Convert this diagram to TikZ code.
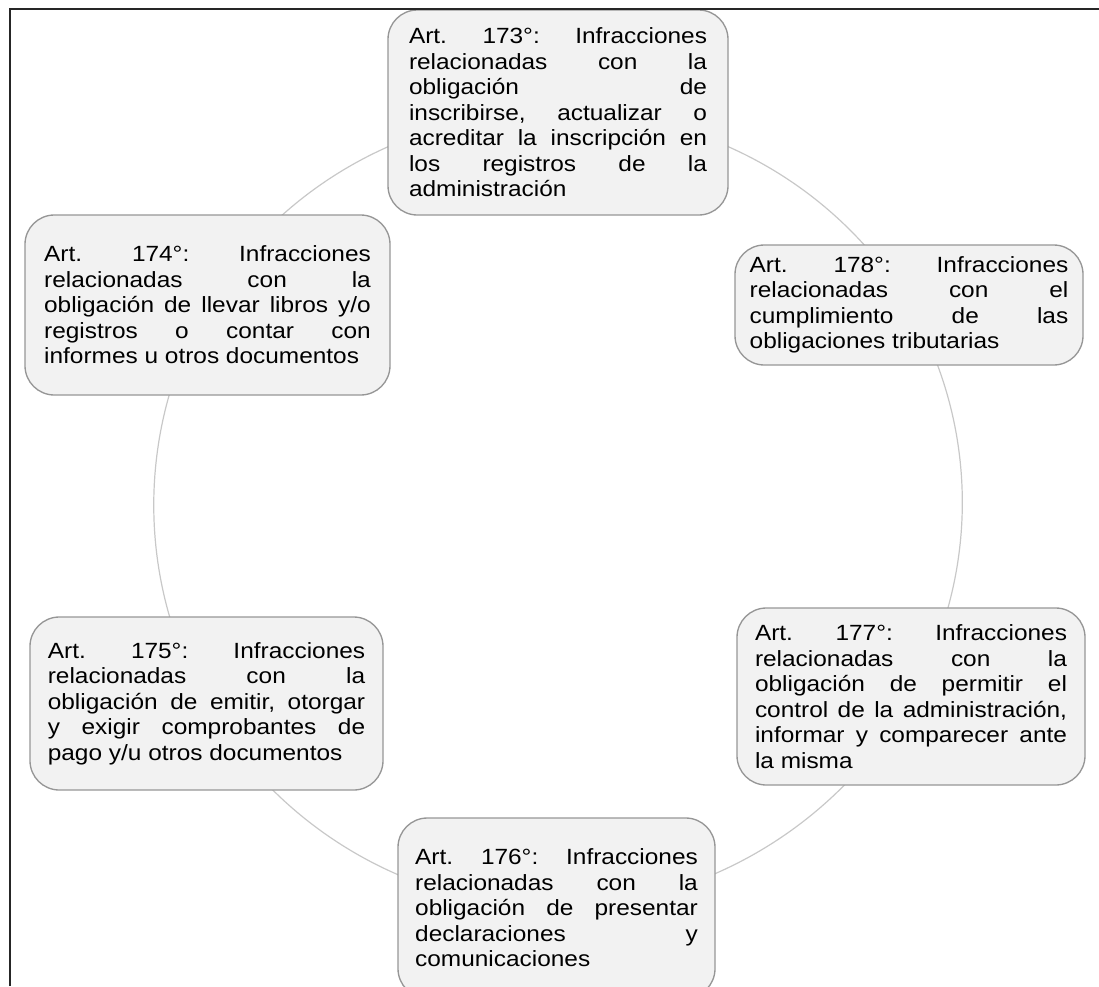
\documentclass[tikz,border=0pt]{standalone}
\usepackage{fontspec}
\setmainfont{Liberation Sans}[FakeStretch=1.11]
\usetikzlibrary{backgrounds}

\definecolor{boxfill}{RGB}{242,242,242}
\definecolor{boxline}{RGB}{150,150,150}
\definecolor{ringline}{RGB}{200,200,200}
\newcommand\artfont{\fontsize{16.5}{19.1}\selectfont\frenchspacing\tolerance=10000 \hbadness=10000 }

\begin{document}
\begin{tikzpicture}[x=0.75pt, y=-0.75pt,
    art/.style = {draw=boxline, fill=boxfill, line width=1pt, rounded corners=22pt,
                  align=justify, inner xsep=0pt, inner ysep=0pt, font=\artfont},
    ring/.style = {draw=ringline, line width=0.9pt, bend left=30, looseness=0.91},
    frame/.style = {draw=black!85, line width=1pt}]
    \useasboundingbox (0,0) rectangle (1099,986);

    \node[art, text width=223.5pt, minimum width=255pt, minimum height=153.75pt] (a173) at (558,112.5)
        {Art. 173°: Infracciones\linebreak relacionadas con la\linebreak obligación de\linebreak inscribirse, actualizar o\linebreak acreditar la inscripción en\linebreak los registros de la\linebreak administración};
    \node[art, text width=239pt, minimum width=261pt, minimum height=90pt] (a178) at (909,305)
        {Art. 178°: Infracciones\linebreak relacionadas con el\linebreak cumplimiento de las\linebreak obligaciones tributarias};
    \node[art, text width=234pt, minimum width=261pt, minimum height=132.75pt] (a177) at (911,696.5)
        {Art. 177°: Infracciones\linebreak relacionadas con la\linebreak obligación de permitir el\linebreak control de la administración,\linebreak informar y comparecer ante\linebreak la misma};
    \node[art, text width=212pt, minimum width=237.75pt, minimum height=135pt] (a176) at (556.5,908)
        {Art. 176°: Infracciones\linebreak relacionadas con la\linebreak obligación de presentar\linebreak declaraciones y\linebreak comunicaciones};
    \node[art, text width=238pt, minimum width=264.75pt, minimum height=129.75pt] (a175) at (206.5,703.5)
        {Art. 175°: Infracciones\linebreak relacionadas con la\linebreak obligación de emitir, otorgar\linebreak y exigir comprobantes de\linebreak pago y/u otros documentos};
    \node[art, text width=245pt, minimum width=273.75pt, minimum height=135pt] (a174) at (207.5,305)
        {Art. 174°: Infracciones\linebreak relacionadas con la\linebreak obligación de llevar libros y/o\linebreak registros o contar con\linebreak informes u otros documentos};

    \begin{scope}[on background layer]
        \draw[ring] (a173.center) to (a178.center) to (a177.center) to (a176.center)
            to (a175.center) to (a174.center) to (a173.center);
    \end{scope}

    \draw[frame] (10,986) -- (10,9) -- (1099,9);
\end{tikzpicture}
\end{document}
